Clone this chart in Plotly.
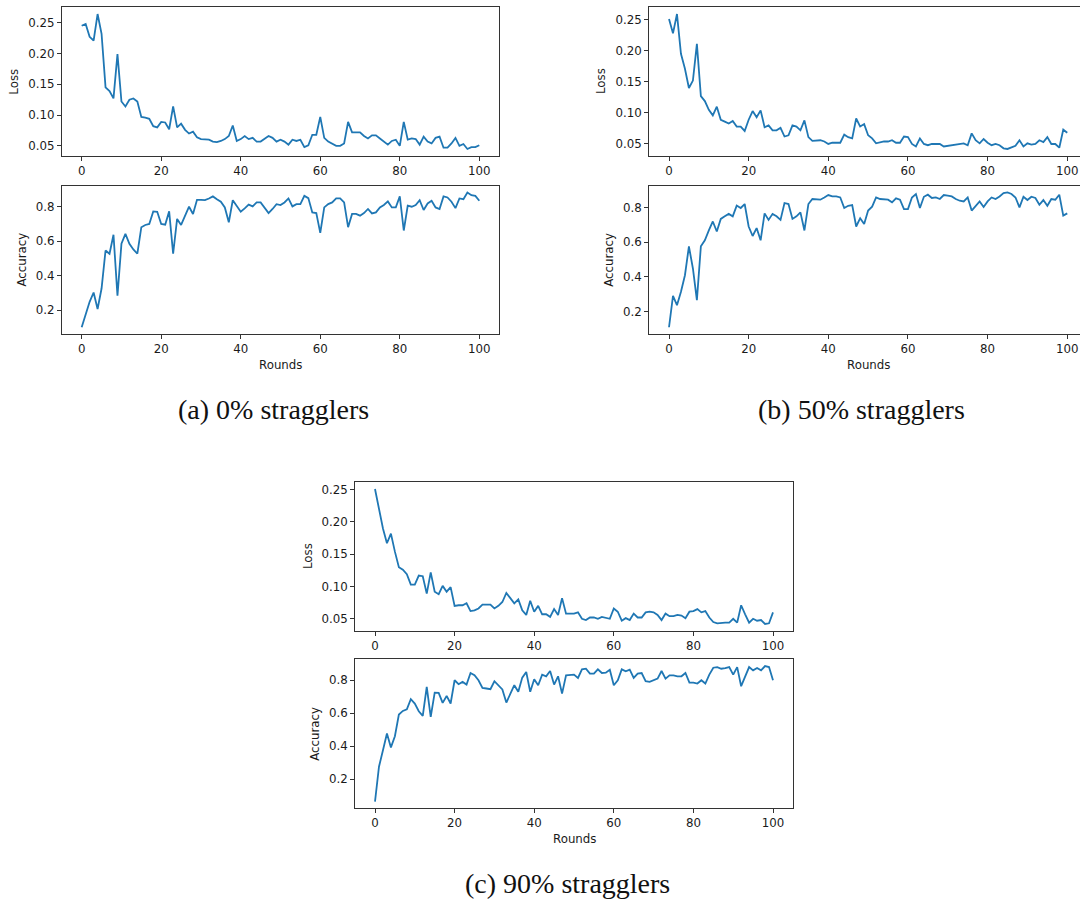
import plotly.graph_objects as go

rounds = list(range(101))

loss_a = [0.245, 0.248, 0.227, 0.221, 0.264, 0.232, 0.145, 0.139, 0.127, 0.199,
          0.122, 0.114, 0.125, 0.127, 0.122, 0.097, 0.096, 0.094, 0.082, 0.080,
          0.089, 0.088, 0.077, 0.114, 0.080, 0.086, 0.076, 0.070, 0.073, 0.064,
          0.061, 0.060, 0.060, 0.057, 0.056, 0.058, 0.061, 0.066, 0.083, 0.058,
          0.061, 0.066, 0.061, 0.063, 0.057, 0.057, 0.061, 0.066, 0.063, 0.057,
          0.060, 0.057, 0.052, 0.060, 0.058, 0.060, 0.048, 0.051, 0.068, 0.068,
          0.097, 0.063, 0.057, 0.054, 0.050, 0.050, 0.054, 0.089, 0.072, 0.072,
          0.072, 0.066, 0.062, 0.067, 0.067, 0.062, 0.057, 0.052, 0.058, 0.060,
          0.050, 0.089, 0.060, 0.062, 0.061, 0.052, 0.065, 0.057, 0.054, 0.063,
          0.065, 0.047, 0.047, 0.054, 0.063, 0.050, 0.053, 0.045, 0.048, 0.048,
          0.051]

acc_a = [0.100, 0.171, 0.248, 0.302, 0.206, 0.325, 0.546, 0.527, 0.637, 0.283,
         0.585, 0.642, 0.585, 0.552, 0.527, 0.681, 0.694, 0.700, 0.773, 0.771,
         0.700, 0.696, 0.773, 0.527, 0.729, 0.694, 0.748, 0.800, 0.758, 0.840,
         0.840, 0.838, 0.848, 0.860, 0.844, 0.829, 0.796, 0.710, 0.838, 0.806,
         0.771, 0.790, 0.812, 0.802, 0.825, 0.825, 0.796, 0.763, 0.787, 0.815,
         0.810, 0.825, 0.848, 0.802, 0.815, 0.815, 0.863, 0.850, 0.767, 0.763,
         0.648, 0.796, 0.815, 0.825, 0.848, 0.848, 0.825, 0.681, 0.758, 0.758,
         0.748, 0.763, 0.787, 0.761, 0.767, 0.796, 0.810, 0.831, 0.796, 0.796,
         0.860, 0.662, 0.806, 0.800, 0.810, 0.838, 0.781, 0.819, 0.835, 0.796,
         0.787, 0.860, 0.854, 0.829, 0.792, 0.848, 0.844, 0.883, 0.867, 0.863,
         0.835]

loss_b = [0.251, 0.228, 0.259, 0.195, 0.171, 0.140, 0.152, 0.211, 0.127, 0.119,
          0.105, 0.096, 0.110, 0.089, 0.086, 0.083, 0.087, 0.078, 0.078, 0.071,
          0.089, 0.103, 0.093, 0.104, 0.077, 0.080, 0.072, 0.072, 0.076, 0.062,
          0.064, 0.080, 0.078, 0.072, 0.088, 0.061, 0.055, 0.056, 0.056, 0.054,
          0.050, 0.052, 0.052, 0.052, 0.065, 0.061, 0.059, 0.091, 0.078, 0.082,
          0.064, 0.059, 0.051, 0.053, 0.054, 0.054, 0.056, 0.052, 0.052, 0.062,
          0.061, 0.050, 0.046, 0.059, 0.050, 0.048, 0.050, 0.050, 0.050, 0.046,
          0.047, 0.047, 0.049, 0.050, 0.051, 0.048, 0.067, 0.056, 0.051, 0.058,
          0.052, 0.048, 0.050, 0.048, 0.043, 0.042, 0.044, 0.047, 0.056, 0.046,
          0.051, 0.049, 0.050, 0.056, 0.053, 0.061, 0.050, 0.050, 0.044, 0.073,
          0.068]

acc_b = [0.108, 0.290, 0.236, 0.313, 0.409, 0.576, 0.448, 0.265, 0.576, 0.611,
         0.668, 0.720, 0.662, 0.735, 0.750, 0.764, 0.750, 0.812, 0.798, 0.821,
         0.691, 0.636, 0.682, 0.611, 0.767, 0.729, 0.764, 0.750, 0.729, 0.827,
         0.821, 0.735, 0.750, 0.773, 0.668, 0.821, 0.850, 0.846, 0.846, 0.859,
         0.873, 0.865, 0.865, 0.859, 0.798, 0.811, 0.815, 0.691, 0.739, 0.706,
         0.783, 0.806, 0.859, 0.850, 0.846, 0.846, 0.831, 0.854, 0.846, 0.792,
         0.792, 0.859, 0.879, 0.798, 0.863, 0.875, 0.856, 0.859, 0.850, 0.873,
         0.869, 0.865, 0.850, 0.840, 0.836, 0.859, 0.783, 0.811, 0.836, 0.804,
         0.836, 0.859, 0.850, 0.865, 0.884, 0.888, 0.879, 0.859, 0.802, 0.863,
         0.844, 0.863, 0.856, 0.817, 0.844, 0.811, 0.850, 0.846, 0.875, 0.754,
         0.767]

loss_c = [0.251, 0.218, 0.190, 0.167, 0.182, 0.154, 0.130, 0.126, 0.119, 0.103,
          0.103, 0.117, 0.116, 0.089, 0.122, 0.092, 0.088, 0.101, 0.092, 0.099,
          0.070, 0.071, 0.071, 0.074, 0.062, 0.063, 0.066, 0.072, 0.072, 0.072,
          0.066, 0.070, 0.076, 0.090, 0.082, 0.074, 0.080, 0.063, 0.056, 0.078,
          0.061, 0.070, 0.057, 0.057, 0.053, 0.065, 0.056, 0.082, 0.058, 0.058,
          0.058, 0.060, 0.050, 0.048, 0.052, 0.052, 0.050, 0.053, 0.052, 0.050,
          0.066, 0.061, 0.047, 0.051, 0.048, 0.058, 0.052, 0.052, 0.060, 0.061,
          0.060, 0.056, 0.048, 0.058, 0.054, 0.054, 0.056, 0.055, 0.051, 0.061,
          0.062, 0.065, 0.060, 0.062, 0.052, 0.045, 0.043, 0.044, 0.044, 0.044,
          0.050, 0.044, 0.071, 0.057, 0.044, 0.050, 0.047, 0.048, 0.042, 0.043,
          0.060]

acc_c = [0.065, 0.276, 0.376, 0.477, 0.393, 0.461, 0.592, 0.614, 0.624, 0.685,
         0.659, 0.612, 0.584, 0.760, 0.578, 0.725, 0.723, 0.663, 0.705, 0.659,
         0.800, 0.776, 0.790, 0.774, 0.844, 0.830, 0.800, 0.754, 0.750, 0.746,
         0.794, 0.770, 0.744, 0.665, 0.723, 0.770, 0.730, 0.816, 0.850, 0.730,
         0.806, 0.770, 0.834, 0.824, 0.856, 0.774, 0.824, 0.719, 0.830, 0.830,
         0.834, 0.814, 0.866, 0.870, 0.840, 0.840, 0.866, 0.844, 0.846, 0.864,
         0.770, 0.800, 0.866, 0.854, 0.864, 0.814, 0.840, 0.844, 0.794, 0.790,
         0.800, 0.810, 0.856, 0.810, 0.830, 0.830, 0.824, 0.824, 0.844, 0.786,
         0.786, 0.780, 0.800, 0.780, 0.834, 0.876, 0.880, 0.870, 0.874, 0.880,
         0.834, 0.880, 0.764, 0.820, 0.880, 0.860, 0.874, 0.860, 0.886, 0.880,
         0.800]

loss_ticks = [0.05, 0.10, 0.15, 0.20, 0.25]
acc_ticks = [0.2, 0.4, 0.6, 0.8]
round_ticks = [0, 20, 40, 60, 80, 100]
captions = ["(a) 0% stragglers", "(b) 50% stragglers", "(c) 90% stragglers"]

W, H = 1080, 900
LINE = "#1f77b4"
AX = "#333333"
TICKFONT = dict(family="DejaVu Sans", size=11.8, color="#1a1a1a")


def px_x(a, b):
    return [a / W, min(b / W, 1.0)]


def px_y(top, bottom):
    return [1 - bottom / H, 1 - top / H]


def yrange(vals):
    lo, hi = min(vals), max(vals)
    p = 0.05 * (hi - lo)
    return [lo - p, hi + p]


# panel geometry (pixels): (left, right, loss_top, loss_bottom, acc_top, acc_bottom)
panels = [
    (61.8, 499.2, 7.3, 155.7, 185.7, 334.0, [-5, 105], True),
    (649.1, 1080.0, 7.3, 155.7, 185.7, 334.0, [-5, 103.2], False),
    (355.1, 792.9, 482.3, 630.7, 659.3, 808.3, [-5, 105], True),
]
series = [(loss_a, acc_a), (loss_b, acc_b), (loss_c, acc_c)]
caption_pos = [(273, 410), (861, 410), (567, 883)]
rounds_x = [280.5, 868, 574]

fig = go.Figure()
layout = dict(width=W, height=H, margin=dict(l=0, r=0, t=0, b=0),
              paper_bgcolor="white", plot_bgcolor="white", showlegend=False)
annotations = []

k = 0
for i, ((l, r, lt, lb, at, ab, xr, ymir), (ls, acs)) in enumerate(zip(panels, series)):
    for j, (vals, top, bot, ticks, fmt, title) in enumerate([
        (ls, lt, lb, loss_ticks, ".2f", "Loss"),
        (acs, at, ab, acc_ticks, ".1f", "Accuracy"),
    ]):
        k += 1
        xa = "xaxis" if k == 1 else f"xaxis{k}"
        ya = "yaxis" if k == 1 else f"yaxis{k}"
        xref = "x" if k == 1 else f"x{k}"
        yref = "y" if k == 1 else f"y{k}"
        fig.add_trace(go.Scatter(x=rounds, y=vals, mode="lines",
                                 line=dict(color=LINE, width=1.8),
                                 xaxis=xref, yaxis=yref, hoverinfo="skip"))
        layout[xa] = dict(domain=px_x(l, r), anchor=yref, range=xr,
                          tickvals=round_ticks, ticks="outside", ticklen=4,
                          tickwidth=1, tickcolor=AX, showline=True, linecolor=AX,
                          linewidth=1, mirror=True, showgrid=False, zeroline=False,
                          tickfont=TICKFONT)
        layout[ya] = dict(domain=px_y(top, bot), anchor=xref, range=yrange(vals),
                          tickvals=ticks, tickformat=fmt, ticks="outside", ticklen=4,
                          tickwidth=1, tickcolor=AX, showline=True, linecolor=AX,
                          linewidth=1, mirror=ymir, showgrid=False, zeroline=False,
                          tickfont=TICKFONT)
        off = 47.6 if title == "Loss" else 40.1
        annotations.append(dict(text=title, xref="paper", yref="paper",
                                x=l / W, y=1 - (top + bot) / 2 / H, xshift=-off,
                                xanchor="center", yanchor="middle", textangle=-90,
                                showarrow=False,
                                font=dict(family="DejaVu Sans", size=11.8, color="#1a1a1a")))
    annotations.append(dict(text="Rounds", xref="paper", yref="paper",
                            x=rounds_x[i] / W, y=1 - ab / H, yshift=-31,
                            xanchor="center", yanchor="middle", showarrow=False,
                            font=dict(family="DejaVu Sans", size=11.8, color="#1a1a1a")))
    cx, cy = caption_pos[i]
    annotations.append(dict(text=captions[i], xref="paper", yref="paper",
                            x=cx / W, y=1 - cy / H, xanchor="center", yanchor="middle",
                            showarrow=False,
                            font=dict(family="Liberation Serif", size=28, color="#111111")))

layout["annotations"] = annotations
fig.update_layout(**layout)
fig.write_html("out.html", config={"displayModeBar": False},
               post_script="document.body.style.margin='0';document.body.style.overflow='hidden';")
